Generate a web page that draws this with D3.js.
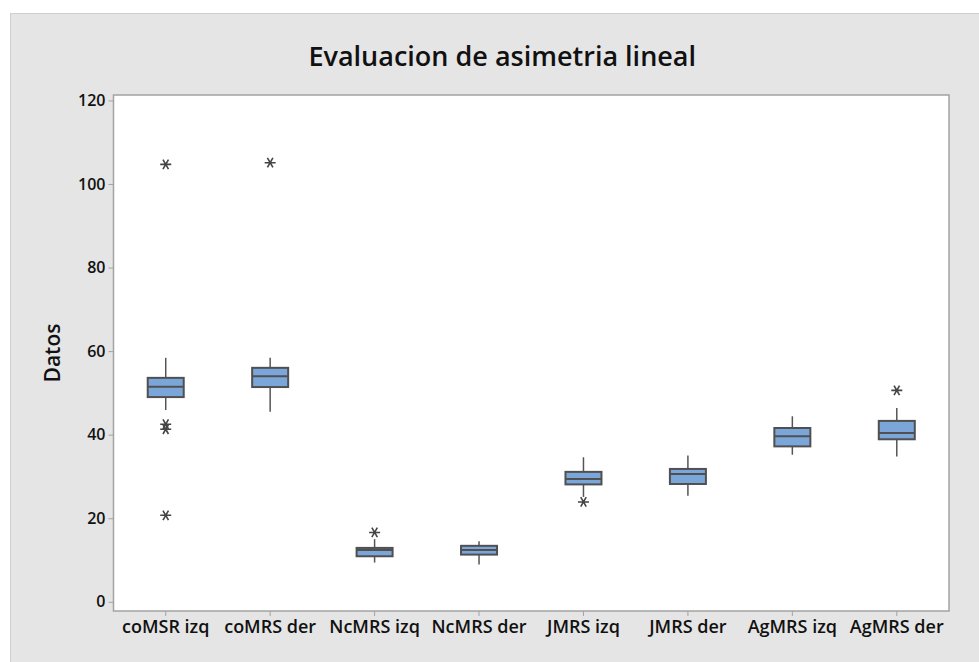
<!DOCTYPE html>
<html>
<meta charset="utf-8">
<script src="https://d3js.org/d3.v7.min.js"></script>
<style>
  body { margin: 0; background: #fff; }
  text { font-family: "Open Sans", sans-serif; }
</style>
<body>
<div id="my_dataviz"></div>
<script>
// values
let categories = ["coMSR izq", "coMRS der", "NcMRS izq", "NcMRS der", "JMRS izq", "JMRS der", "AgMRS izq", "AgMRS der"]
let whiskerLow  = [45.9, 45.5,  9.4,  8.9, 25.1, 25.4, 35.2, 34.8]
let q1          = [49.0, 51.4, 10.9, 11.3, 28.1, 28.2, 37.2, 38.9]
let median      = [51.5, 54.0, 12.4, 12.4, 29.4, 30.6, 39.6, 40.4]
let q3          = [53.6, 56.0, 12.9, 13.4, 31.1, 31.8, 41.6, 43.3]
let whiskerHigh = [58.4, 58.4, 15.0, 14.5, 34.6, 35.0, 44.4, 46.4]
let outliers    = [[104.7, 42.5, 41.3, 20.7], [105.1], [16.6], [], [23.9], [], [], [50.6]]
let yTicks = [0, 20, 40, 60, 80, 100, 120]

let width = 979, height = 662
let plot = {left: 113.5, right: 949, top: 95, bottom: 611}

let svg = d3.select("#my_dataviz")
  .append("svg")
    .attr("width", width)
    .attr("height", height)

// grey figure background
svg.append("rect")
  .attr("x", 10.5).attr("y", 13.5)
  .attr("width", width).attr("height", height)
  .attr("fill", "#e5e5e5")
  .attr("stroke", "#cfcfcf")

svg.append("rect")
  .attr("x", plot.left).attr("y", plot.top)
  .attr("width", plot.right - plot.left).attr("height", plot.bottom - plot.top)
  .attr("fill", "#fff")
  .attr("stroke", "#a3a3a3")
  .attr("stroke-width", 1.5)

let x = d3.scaleBand()
  .domain(categories)
  .range([plot.left, plot.right])
  .padding(0)

let y = d3.scaleLinear()
  .domain([-2.2, 121.3])
  .range([plot.bottom, plot.top])

let yAxis = svg.append("g")
  .attr("transform", "translate(" + plot.left + ",0)")
  .call(d3.axisLeft(y).tickValues(yTicks).tickSize(5).tickPadding(3))
yAxis.select(".domain").remove()
yAxis.selectAll("line").attr("stroke", "#a3a3a3")
yAxis.selectAll("text")
  .attr("font-family", "Open Sans")
  .attr("font-size", "16px")
  .attr("font-weight", 600)
  .attr("fill", "#111")

let xAxis = svg.append("g")
  .attr("transform", "translate(0," + plot.bottom + ")")
  .call(d3.axisBottom(x).tickSize(5).tickPadding(4))
xAxis.select(".domain").remove()
xAxis.selectAll("line").attr("stroke", "#a3a3a3")
xAxis.selectAll("text")
  .attr("font-family", "Open Sans")
  .attr("font-size", "18px")
  .attr("font-weight", 600)
  .attr("fill", "#111")

let boxW = 36
let boxes = svg.append("g")
  .selectAll("g")
  .data(categories)
  .join("g")
    .attr("transform", d => "translate(" + (x(d) + x.bandwidth() / 2) + ",0)")

boxes.append("line")
  .attr("y1", (d, i) => y(whiskerHigh[i]))
  .attr("y2", (d, i) => y(whiskerLow[i]))
  .attr("stroke", "#555")
  .attr("stroke-width", 1.5)

boxes.append("rect")
  .attr("x", -boxW / 2)
  .attr("width", boxW)
  .attr("y", (d, i) => y(q3[i]))
  .attr("height", (d, i) => y(q1[i]) - y(q3[i]))
  .attr("fill", "#7ba6da")
  .attr("stroke", "#505050")
  .attr("stroke-width", 2)

boxes.append("line")
  .attr("x1", -boxW / 2).attr("x2", boxW / 2)
  .attr("y1", (d, i) => y(median[i]))
  .attr("y2", (d, i) => y(median[i]))
  .attr("stroke", "#505050")
  .attr("stroke-width", 2)

// minitab style asterisk: horizontal bar crossed by two diagonals
let r = 5.5
let star = d3.range(3).map(k => {
  let a = k * Math.PI / 3
  return "M" + (-r * Math.cos(a)) + "," + (-r * Math.sin(a)) + "L" + (r * Math.cos(a)) + "," + (r * Math.sin(a))
}).join("")
boxes.selectAll("path.out")
  .data((d, i) => outliers[i])
  .join("path")
    .attr("class", "out")
    .attr("d", star)
    .attr("transform", v => "translate(0," + y(v) + ")")
    .attr("fill", "none")
    .attr("stroke", "#444")
    .attr("stroke-width", 1.6)

svg.append("text")
  .attr("x", (plot.left + plot.right) / 2 - 29)
  .attr("y", 66)
  .attr("text-anchor", "middle")
  .attr("font-size", "27px")
  .attr("font-weight", 600)
  .attr("fill", "#111")
  .text("Evaluacion de asimetria lineal")

svg.append("text")
  .attr("transform", "translate(60," + ((plot.top + plot.bottom) / 2) + ") rotate(-90)")
  .attr("text-anchor", "middle")
  .attr("font-size", "21px")
  .attr("font-weight", 600)
  .attr("fill", "#111")
  .text("Datos")
</script>
</body>
</html>
